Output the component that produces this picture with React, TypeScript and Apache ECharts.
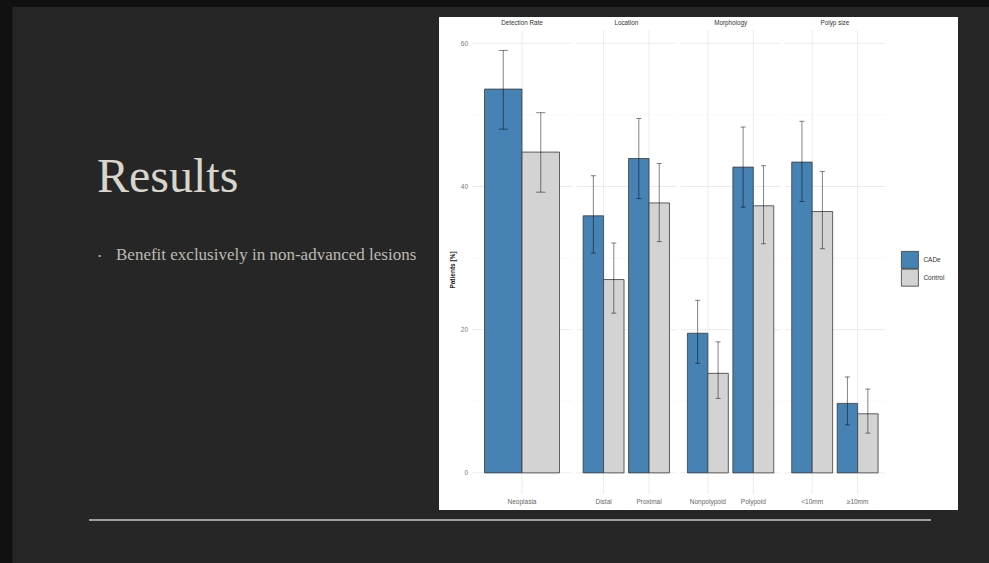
import React, { useEffect, useRef } from 'react';
import * as echarts from 'echarts';

const FACETS = ['Detection Rate', 'Location', 'Morphology', 'Polyp size'];
const CATEGORIES = [['Neoplasia'], ['Distal', 'Proximal'], ['Nonpolypoid', 'Polypoid'], ['<10mm', '≥10mm']];
const SERIES_NAMES = ['CADe', 'Control'];
const CADE = [[53.6], [35.9, 43.9], [19.5, 42.7], [43.4, 9.7]];
const CADE_LO = [[48.0], [30.7, 38.3], [15.3, 37.1], [37.9, 6.7]];
const CADE_HI = [[59.0], [41.5, 49.5], [24.1, 48.3], [49.1, 13.4]];
const CONTROL = [[44.8], [27.0, 37.7], [13.9, 37.3], [36.5, 8.25]];
const CONTROL_LO = [[39.2], [22.3, 32.3], [10.4, 32.0], [31.3, 5.55]];
const CONTROL_HI = [[50.3], [32.1, 43.2], [18.3, 42.9], [42.1, 11.7]];
const Y_MAJOR = [0, 20, 40, 60];
const Y_MINOR = [10, 30, 50];
const Y_MIN = -2.95;
const Y_MAX = 61.85;

const TITLE = 'Results';
const BULLET = 'Benefit exclusively in non-advanced lesions';
const Y_TITLE = 'Patients [%]';

const COLORS = ['#4682b4', '#d3d3d3'];
const PANEL_LEFT = 472;
const PANEL_STEP = 104.3;
const PANEL_W = 100;
const PANEL_TOP = 30;
const PANEL_H = 464;
const SANS = '"Liberation Sans", Arial, sans-serif';
const SERIF = '"Liberation Serif", "Times New Roman", serif';
const BAR_FRAC = 0.45;

function barRender(sign: number, color: string) {
  return (params: any, api: any) => {
    const unit = api.size([1, 0])[0];
    const x = api.value(0);
    const p0 = api.coord([x, 0]);
    const p1 = api.coord([x, api.value(1)]);
    const w = unit * BAR_FRAC;
    const left = sign < 0 ? p0[0] - w : p0[0];
    return {
      type: 'rect',
      shape: { x: left, y: p1[1], width: w, height: p0[1] - p1[1] },
      style: { fill: color, stroke: '#3a3a3a', lineWidth: 0.8 },
    };
  };
}

function errRender(sign: number) {
  return (params: any, api: any) => {
    const unit = api.size([1, 0])[0];
    const x = api.value(0);
    const pLo = api.coord([x, api.value(1)]);
    const pHi = api.coord([x, api.value(2)]);
    const cx = pLo[0] + sign * unit * BAR_FRAC / 2;
    const hw = unit * 0.055;
    const style = { stroke: 'rgba(0,0,0,0.55)', lineWidth: 0.9 };
    return {
      type: 'group',
      children: [
        { type: 'line', shape: { x1: cx, y1: pLo[1], x2: cx, y2: pHi[1] }, style },
        { type: 'line', shape: { x1: cx - hw, y1: pHi[1], x2: cx + hw, y2: pHi[1] }, style },
        { type: 'line', shape: { x1: cx - hw, y1: pLo[1], x2: cx + hw, y2: pLo[1] }, style },
      ],
    };
  };
}

function gridRender(n: number) {
  return (params: any, api: any) => {
    const cs = params.coordSys;
    const children: any[] = [];
    Y_MINOR.forEach((v) => {
      const y = api.coord([1, v])[1];
      children.push({ type: 'line', shape: { x1: cs.x, y1: y, x2: cs.x + cs.width, y2: y }, style: { stroke: '#f3f3f3', lineWidth: 0.6 } });
    });
    Y_MAJOR.forEach((v) => {
      const y = api.coord([1, v])[1];
      children.push({ type: 'line', shape: { x1: cs.x, y1: y, x2: cs.x + cs.width, y2: y }, style: { stroke: '#ebebeb', lineWidth: 1 } });
    });
    for (let j = 1; j <= n; j++) {
      const x = api.coord([j, 0])[0];
      children.push({ type: 'line', shape: { x1: x, y1: cs.y, x2: x, y2: cs.y + cs.height }, style: { stroke: '#ebebeb', lineWidth: 1 } });
    }
    return { type: 'group', children };
  };
}

export default function App() {
  const ref = useRef<HTMLDivElement>(null);
  useEffect(() => {
    if (!ref.current) return;
    const chart = echarts.init(ref.current, undefined, { renderer: 'svg' });

    const grids = FACETS.map((_, i) => ({ left: PANEL_LEFT + i * PANEL_STEP, top: PANEL_TOP, width: PANEL_W, height: PANEL_H }));
    const xAxes = CATEGORIES.map((cats, i) => ({
      type: 'value',
      gridIndex: i,
      min: 0.4,
      max: cats.length + 0.6,
      axisLine: { show: false },
      axisTick: { show: false },
      splitLine: { show: false },
      axisLabel: {
        show: true,
        customValues: cats.map((_, j) => j + 1),
        formatter: (v: number) => cats[Math.round(v) - 1] ?? '',
        margin: 4,
        fontSize: 6.5,
        color: '#666',
        fontFamily: SANS,
      },
    }));
    const yAxes = FACETS.map((_, i) => ({
      type: 'value',
      gridIndex: i,
      min: Y_MIN,
      max: Y_MAX,
      axisLine: { show: false },
      axisTick: { show: false },
      splitLine: { show: false },
      axisLabel: i === 0
        ? { show: true, customValues: Y_MAJOR, margin: 4, fontSize: 6.5, color: '#777', fontFamily: SANS }
        : { show: false },
    }));

    const series: any[] = [];
    CATEGORIES.forEach((cats, i) => {
      const n = cats.length;
      series.push({
        type: 'custom', name: 'grid', xAxisIndex: i, yAxisIndex: i, z: 1, silent: true,
        data: [[1, 0]], renderItem: gridRender(n),
      });
      [CADE, CONTROL].forEach((vals, s) => {
        series.push({
          type: 'custom', name: SERIES_NAMES[s], xAxisIndex: i, yAxisIndex: i, z: 2, silent: true,
          encode: { x: 0, y: 1 },
          itemStyle: { color: COLORS[s] },
          data: vals[i].map((v, j) => [j + 1, v]),
          renderItem: barRender(s === 0 ? -1 : 1, COLORS[s]),
        });
      });
      [[CADE_LO, CADE_HI], [CONTROL_LO, CONTROL_HI]].forEach(([lo, hi], s) => {
        series.push({
          type: 'custom', name: 'err' + s, xAxisIndex: i, yAxisIndex: i, z: 3, silent: true,
          encode: { x: 0, y: [1, 2] },
          data: lo[i].map((l, j) => [j + 1, l, hi[i][j]]),
          renderItem: errRender(s === 0 ? -1 : 1),
        });
      });
    });

    const graphics: any[] = [
      { type: 'rect', z: 0, shape: { x: 0, y: 0, width: 989, height: 7 }, style: { fill: '#111111' } },
      { type: 'rect', z: 0, shape: { x: 0, y: 0, width: 12.5, height: 563 }, style: { fill: '#111111' } },
      { type: 'rect', z: 0, shape: { x: 439, y: 17, width: 519, height: 493 }, style: { fill: '#ffffff' } },
      { type: 'text', z: 1, x: 97, y: 175, style: { text: TITLE, font: `48px ${SERIF}`, fill: '#d8d5cd', verticalAlign: 'middle' } },
      { type: 'text', z: 1, x: 98, y: 256, style: { text: '•', font: `9px ${SERIF}`, fill: '#bdbab2', verticalAlign: 'middle' } },
      { type: 'text', z: 1, x: 116, y: 254.5, style: { text: BULLET, font: `17px ${SERIF}`, fill: '#bdbab2', verticalAlign: 'middle' } },
      { type: 'line', z: 1, shape: { x1: 89, y1: 520, x2: 931, y2: 520 }, style: { stroke: '#c8c6bc', lineWidth: 1.5 } },
      { type: 'text', z: 1, x: 452, y: 270, rotation: Math.PI / 2, style: { text: Y_TITLE, font: `bold 6.5px ${SANS}`, fill: '#222', align: 'center', verticalAlign: 'middle' } },
      ...FACETS.map((f, i) => ({
        type: 'text', z: 1, x: PANEL_LEFT + i * PANEL_STEP + PANEL_W / 2, y: 22,
        style: { text: f, font: `6.3px ${SANS}`, fill: '#333', align: 'center', verticalAlign: 'middle' },
      })),
    ];

    chart.setOption({
      animation: false,
      backgroundColor: '#262626',
      grid: grids,
      xAxis: xAxes,
      yAxis: yAxes,
      legend: {
        data: SERIES_NAMES.map((name, s) => ({ name, icon: 'rect', itemStyle: { color: COLORS[s], borderColor: '#3a3a3a', borderWidth: 0.8 } })),
        orient: 'vertical',
        left: 901,
        top: 251,
        itemWidth: 17,
        itemHeight: 17,
        itemGap: 0,
        padding: 0,
        selectedMode: false,
        textStyle: { fontSize: 6.5, color: '#333', fontFamily: SANS },
      },
      graphic: { elements: graphics },
      series,
    });
    return () => chart.dispose();
  }, []);
  return <div ref={ref} style={{ position: 'absolute', left: 0, top: 0, width: 989, height: 563 }} />;
}
